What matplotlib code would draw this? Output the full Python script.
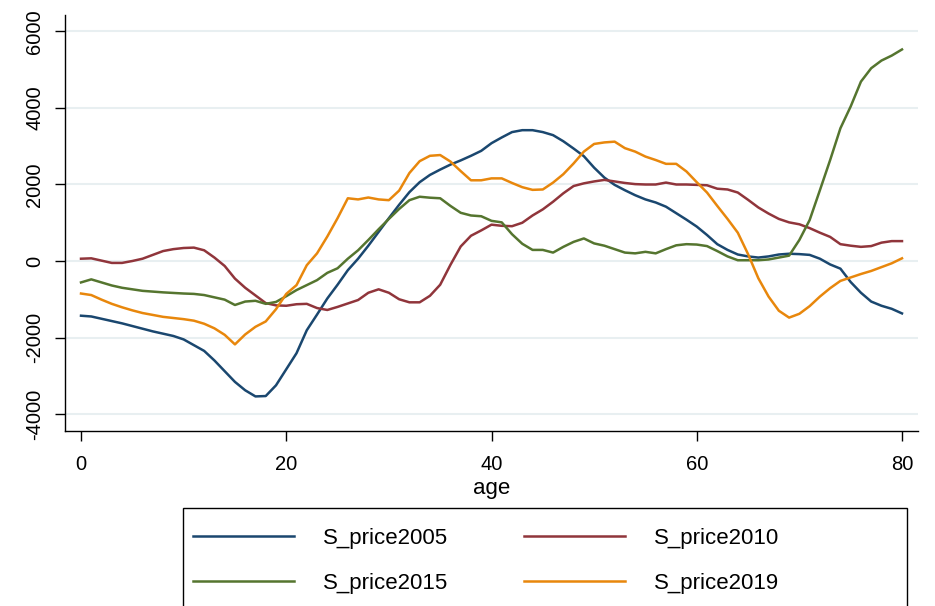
import numpy as np
import matplotlib
matplotlib.use("Agg")
import matplotlib.pyplot as plt
from matplotlib.patches import Rectangle

# age 0..80
age = np.arange(0, 81)

S_price2005 = [-1430, -1450, -1510, -1570, -1630, -1700, -1770, -1840, -1900, -1960,
               -2050, -2200, -2350, -2600, -2880, -3160, -3380, -3540, -3530, -3250,
               -2830, -2410, -1810, -1400, -980, -620, -240, 60, 400, 760,
               1120, 1470, 1800, 2060, 2250, 2390, 2520, 2630, 2750, 2880,
               3080, 3230, 3370, 3420, 3420, 3370, 3290, 3130, 2940, 2740,
               2440, 2180, 1990, 1850, 1720, 1610, 1530, 1420, 1250, 1080,
               900, 680, 440, 290, 170, 120, 90, 120, 170, 190,
               180, 160, 60, -90, -200, -550, -830, -1060, -1170, -1250,
               -1370]

S_price2010 = [60, 70, 10, -50, -50, 0, 60, 160, 260, 310,
               340, 350, 280, 90, -130, -460, -700, -900, -1100, -1160,
               -1170, -1130, -1120, -1230, -1280, -1200, -1110, -1020, -830, -740,
               -830, -1000, -1080, -1080, -910, -620, -100, 380, 660, 800,
               950, 920, 910, 1000, 1190, 1350, 1550, 1770, 1960, 2030,
               2080, 2120, 2080, 2040, 2010, 2000, 2000, 2050, 2000, 2000,
               1990, 1980, 1890, 1870, 1790, 1600, 1400, 1240, 1100, 1010,
               960, 860, 740, 630, 440, 400, 370, 390, 480, 520,
               520]

S_price2015 = [-560, -480, -560, -640, -700, -740, -780, -800, -820, -835,
               -850, -860, -890, -950, -1010, -1150, -1060, -1040, -1120, -1070,
               -920, -760, -630, -500, -310, -190, 60, 280, 550, 830,
               1100, 1360, 1590, 1680, 1655, 1640, 1440, 1260, 1190, 1170,
               1050, 1010, 700, 450, 290, 290, 220, 370, 500, 590,
               460, 400, 310, 220, 200, 240, 200, 310, 410, 440,
               430, 390, 260, 120, 20, 20, 20, 40, 90, 140,
               550, 1070, 1850, 2640, 3470, 4040, 4690, 5040, 5240, 5370,
               5530]

S_price2019 = [-850, -890, -1010, -1120, -1210, -1290, -1360, -1410, -1460, -1490,
               -1520, -1560, -1640, -1760, -1930, -2180, -1920, -1720, -1580, -1260,
               -860, -630, -110, 200, 640, 1120, 1640, 1610, 1660, 1610,
               1590, 1840, 2300, 2610, 2750, 2770, 2600, 2350, 2110, 2110,
               2160, 2160, 2040, 1930, 1860, 1870, 2050, 2270, 2550, 2860,
               3060, 3100, 3120, 2950, 2860, 2730, 2640, 2540, 2540, 2340,
               2060, 1790, 1440, 1100, 740, 180, -450, -930, -1300, -1480,
               -1380, -1180, -930, -710, -520, -430, -340, -260, -160, -60,
               70]

labels = ["S_price2005", "S_price2010", "S_price2015", "S_price2019"]
colors = ["#1a476f", "#90353b", "#55752f", "#e8870c"]
yticks = [-4000, -2000, 0, 2000, 4000, 6000]
xticks = [0, 20, 40, 60, 80]

plt.rcParams['font.family'] = ['Liberation Sans', 'DejaVu Sans']
W, H = 935, 606
fig = plt.figure(figsize=(W / 100, H / 100), dpi=100)
ax = fig.add_axes([65 / W, 1 - 431 / H, (918 - 65) / W, (431 - 15) / H])

lines = []
for ys, lab, c in zip([S_price2005, S_price2010, S_price2015, S_price2019], labels, colors):
    ln, = ax.plot(age, ys, color=c, lw=1.8, label=lab, zorder=3)
    lines.append(ln)

ax.set_xlim(-1.56, 81.56)
ax.set_ylim(-4444, 6431)
ax.set_xticks(xticks)
ax.set_yticks(yticks)
ax.set_yticklabels([str(v) for v in yticks], rotation=90, va='center')
ax.tick_params(axis='both', labelsize=14.5, length=7, width=1, color='black')
ax.tick_params(axis='x', pad=10)
ax.tick_params(axis='y', pad=8)
ax.yaxis.grid(True, color='#e8eff1', lw=1.5)
ax.set_axisbelow(True)
for s in ['top', 'right']:
    ax.spines[s].set_visible(False)
for s in ['left', 'bottom']:
    ax.spines[s].set_linewidth(1)
ax.set_xlabel("age", fontsize=16, labelpad=3)

# rows: 2005, 2010 / 2015, 2019 (matplotlib fills column-wise)
order = [0, 2, 1, 3]
leg = fig.legend([lines[i] for i in order], [labels[i] for i in order], ncol=2,
                 frameon=False, fontsize=16,
                 loc='upper left', bbox_to_anchor=(182 / W, 1 - 517 / H),
                 borderpad=0, handlelength=4.55, handletextpad=1.3,
                 columnspacing=3.4, labelspacing=1.07)
fig.patches.append(Rectangle((183 / W, -0.05), (907 - 183) / W, 1 - 508 / H + 0.05,
                             transform=fig.transFigure, fill=False, ec='black', lw=1))

fig.savefig("out.png", dpi=100)
